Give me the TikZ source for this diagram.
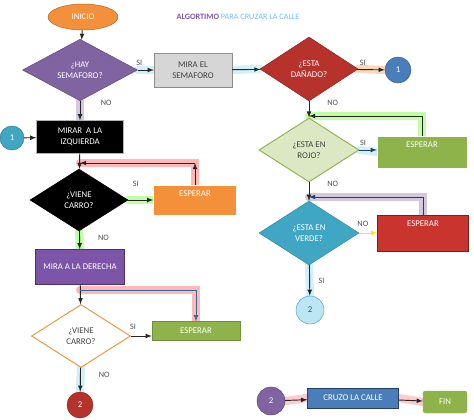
\documentclass[tikz,border=0pt]{standalone}
\usepackage{fontspec}
\setmainfont{Carlito}
\usetikzlibrary{shapes.geometric,backgrounds}

\definecolor{naranja}{HTML}{F4903A}
\definecolor{morado}{HTML}{7D55A8}
\definecolor{lila}{HTML}{8064A2}
\definecolor{rojooscuro}{HTML}{B8322C}
\definecolor{rojo}{HTML}{C9352E}
\definecolor{azul}{HTML}{4A7EBB}
\definecolor{turquesa}{HTML}{3FA6C3}
\definecolor{verde}{HTML}{8DB34A}
\definecolor{verdeclaro}{HTML}{DCE8C4}
\definecolor{celeste}{HTML}{BDE6F4}
\definecolor{gris}{HTML}{D6D6D6}
\definecolor{cian}{HTML}{7FD3F0}

\begin{document}
\begin{tikzpicture}[x=0.03cm,y=-0.03cm,>=latex,
    txt/.style={font=\fontsize{7.5}{9}\selectfont,align=center},
    caja/.style={txt,draw,minimum width=#1,inner sep=1pt},
    rombo/.style={txt,diamond,draw,inner sep=0pt,minimum width=#1},
    circulo/.style={txt,circle,draw,inner sep=0pt,minimum size=#1},
    flecha/.style={->,thick,black!85},
    brillo/.style={line width=7pt,opacity=.35,line cap=round,#1},
    etq/.style={font=\fontsize{7}{8}\selectfont,text=black!70}]
\useasboundingbox (0,0) rectangle (474,420);

% titulo
\node (titulo) at (238,17) {\fontsize{7}{8}\selectfont
  \textcolor{morado}{\textbf{ALGORTIMO}} \textcolor{cian!90!blue}{PARA CRUZAR LA CALLE}};

% columna izquierda
\node (inicio) [txt,ellipse,draw=naranja!70!black,fill=naranja,text=white,
  minimum width=2.1cm,minimum height=0.78cm] at (83,17) {INICIO};
\node (hay) [rombo=3.45cm,minimum height=1.8cm,fill=lila,draw=lila!70!black,text=white]
  at (80,70) {¿HAY\\SEMAFORO?};
\node (mira) [caja=2.34cm,minimum height=1.02cm,fill=gris,draw=black!45,text=black!75]
  at (193,70) {MIRA EL\\SEMAFORO};
\node (izq) [caja=2.61cm,minimum height=0.99cm,fill=black,draw=white!70!black,text=white]
  at (80,137) {MIRAR\ \ A LA\\IZQUIERDA};
\node (uno) [circulo=0.72cm,fill=turquesa,draw=turquesa!70!black,text=white]
  at (12,138) {1};
\node (viene) [rombo=2.94cm,minimum height=1.86cm,fill=black,draw=black,text=white]
  at (79,200) {¿VIENE\\CARRO?};
\node (espuno) [caja=2.49cm,minimum height=0.9cm,fill=naranja,draw=white,
  label={[txt,text=white,anchor=north,yshift=-2pt]north:ESPERAR}] at (195,200) {};
\node (der) [caja=2.67cm,minimum height=1.05cm,fill=morado,draw=morado!60!black,text=white]
  at (80,267) {MIRA A LA DERECHA};
\node (vienedos) [rombo=2.97cm,minimum height=1.89cm,fill=white,draw=naranja,thick,text=black!75]
  at (81,336) {¿VIENE\\CARRO?};
\node (espdos) [caja=2.64cm,minimum height=0.57cm,fill=verde,draw=verde!80!black,text=white]
  at (196,331) {ESPERAR};
\node (dosrojo) [circulo=0.78cm,fill=rojooscuro,draw=rojooscuro!70!black,text=white]
  at (80,405) {2};

% columna derecha
\node (danado) [rombo=2.94cm,minimum height=1.92cm,fill=rojooscuro,draw=rojooscuro!70!black,text=white]
  at (309,69) {¿ESTA\\DAÑADO?};
\node (unoazul) [circulo=0.78cm,fill=azul,draw=azul!70!black,text=white]
  at (398,70) {1};
\node (rojo) [rombo=3cm,minimum height=1.92cm,fill=verdeclaro,draw=verde,thick,text=black!75]
  at (309,150) {¿ESTA EN\\ROJO?};
\node (esptres) [caja=2.7cm,minimum height=0.96cm,fill=verde,draw=white,
  label={[txt,text=white,anchor=north,yshift=-2pt]north:ESPERAR}] at (422,152) {};
\node (verde) [rombo=3cm,minimum height=1.92cm,fill=turquesa,draw=turquesa!80!black,text=white]
  at (309,233) {¿ESTA EN\\VERDE?};
\node (espcuatro) [caja=2.73cm,minimum height=1.08cm,fill=rojo,draw=rojo!60!black,
  label={[txt,text=white,anchor=north,yshift=-2pt]north:ESPERAR}] at (423,233) {};
\node (doscel) [circulo=0.84cm,fill=celeste,draw=turquesa,text=black!70]
  at (310,310) {2};

% final
\node (dosmor) [circulo=0.84cm,fill=lila,draw=lila!70!black,text=white]
  at (271,401) {2};
\node (cruzo) [caja=2.73cm,minimum height=0.6cm,fill=azul,draw=azul!50!black,text=white]
  at (353,398) {CRUZO LA CALLE};
\node (fin) [caja=1.32cm,minimum height=0.66cm,rounded corners=2pt,fill=verde,draw=verde,text=white]
  at (445,402) {FIN};

\coordinate (vuelta1) at (espuno.north |- 0,163);
\coordinate (vuelta2) at (80,290);
\coordinate (vuelta3) at (espdos.north |- vuelta2);
\coordinate (vuelta4) at (esptres.north |- 0,116);
\coordinate (vuelta5) at (espcuatro.north |- 0,197);

\begin{scope}[on background layer]
\draw[brillo=cian] (hay.east) -- (mira.west);
\draw[brillo=cian] (mira.east) -- (danado.west);
\draw[brillo=naranja] (danado.east) -- (unoazul.west);
\draw[brillo=lila] (hay.south) -- (izq.north);
\draw[brillo=red!80] (espuno.north) -- (vuelta1) -- (vuelta1 -| izq.south);
\draw[brillo=green!70!yellow] (viene.east) -- (espuno.west);
\draw[brillo=green!70!yellow] (viene.south) -- (der.north);
\draw[brillo=red!80] (vuelta2) -- (vuelta3) -- (espdos.north);
\draw[brillo=cian] (vienedos.south) -- (dosrojo.north);
\draw[brillo=green!70!yellow] (esptres.north) -- (vuelta4) -- (vuelta4 -| danado.south);
\draw[brillo=cian] (rojo.east) -- (esptres.west);
\draw[brillo=lila] (espcuatro.north) -- (vuelta5) -- (vuelta5 -| rojo.south);
\draw[brillo=cian] (verde.south) -- (doscel.north);
\draw[brillo=red!60] (dosmor.east) -- (cruzo.west);
\draw[brillo=red!60] (cruzo.east) -- (fin.west);
\end{scope}

% conectores
\draw[flecha] (inicio) -- (hay);
\draw[flecha] (hay) -- node[etq,above,pos=.1] {SI} (mira);
\draw[flecha] (mira) -- (danado);
\draw[flecha] (danado) -- node[etq,above,pos=.2] {SI} (unoazul);
\draw[flecha] (hay) -- node[etq,right,pos=.1,xshift=14pt] {NO} (izq);
\draw[flecha] (uno) -- (izq);
\draw[flecha] (izq) -- (viene);
\draw[flecha] (espuno.north) -- (vuelta1);
\draw[flecha] (vuelta1) -- (vuelta1 -| izq.south);
\draw[flecha] (viene) -- node[etq,above,pos=.3,yshift=8pt] {SI} (espuno);
\draw[flecha] (viene) -- node[etq,right,pos=.4,xshift=12pt] {NO} (der);
\draw[flecha] (der) -- (vienedos);
\draw[->,thick,azul!80!black] (vuelta2) -- (vuelta3) -- (espdos.north);
\draw[flecha] (vienedos.east) -- node[etq,above,pos=.1,yshift=2pt] {SI} (vienedos.east -| espdos.west);
\draw[flecha] (vienedos) -- node[etq,right,pos=.3,xshift=12pt] {NO} (dosrojo);
\draw[flecha] (danado) -- node[etq,right,pos=.1,xshift=12pt] {NO} (rojo);
\draw[flecha] (esptres.north) -- (vuelta4) -- (vuelta4 -| danado.south);
\draw[->,thick,azul!50!black] (rojo.east) -- node[etq,above,pos=.2] {SI} (rojo.east -| esptres.west);
\draw[flecha] (rojo) -- node[etq,right,pos=.1,xshift=12pt] {NO} (verde);
\draw[->,thick,azul!50!black] (espcuatro.north) -- (vuelta5) -- (vuelta5 -| rojo.south);
\draw[->,thick,yellow!90!orange] (verde.east) -- node[etq,above,pos=.2,yshift=2pt] {NO} (verde.east -| espcuatro.west);
\draw[flecha] (verde) -- node[etq,right,pos=.5,xshift=4pt] {SI} (doscel);
\draw[flecha] (dosmor) -- (cruzo);
\draw[flecha] (cruzo) -- (fin);
\end{tikzpicture}
\end{document}
